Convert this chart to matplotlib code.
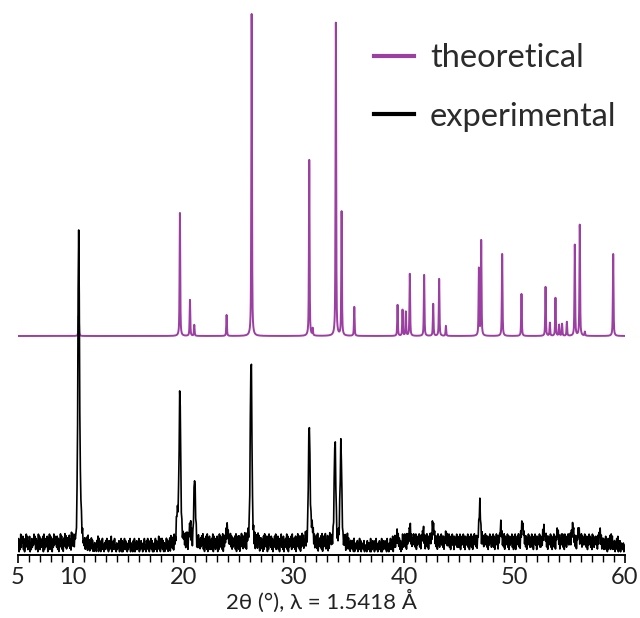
import numpy as np
import matplotlib
matplotlib.use("Agg")
import matplotlib.pyplot as plt
from matplotlib.ticker import FixedLocator, MultipleLocator

plt.rcParams['font.family'] = ['Lato', 'DejaVu Sans']

# theoretical pattern: peak positions (2theta, deg) and heights (a.u.)
theo_pos = [10.50, 19.67, 20.58, 20.97, 23.90, 26.17, 31.39, 31.70, 33.80, 34.32,
            35.47, 39.39, 39.84, 40.14, 40.50, 41.80, 42.62, 43.16, 43.77, 46.76,
            46.97, 48.87, 50.62, 52.80, 53.19, 53.70, 54.03, 54.30, 54.73, 55.45,
            55.90, 56.36, 58.93]
theo_int = [20, 123, 36, 11, 21, 322, 176, 7, 313, 124,
            29, 31, 26, 24, 62, 61, 32, 57, 10, 67,
            95, 82, 42, 49, 13, 38, 11, 12, 14, 91,
            111, 4, 82]

# experimental pattern: peaks
exp_pos = [10.50, 10.70, 19.43, 19.67, 20.60, 21.00, 23.96, 26.12, 31.39, 31.62,
           33.72, 34.26, 39.33, 40.50, 41.70, 42.60, 43.80, 46.85, 48.75, 50.70,
           52.65, 53.90, 55.25, 55.80, 57.70, 58.80]
exp_int = [320, 26, 26, 155, 18, 66, 18, 192, 120, 18,
           103, 100, 10, 14, 10, 20, 4, 36, 14, 20,
           12, 8, 16, 8, 8, 6]

# background noise of the measured trace, one digit per step, 5 -> 60 deg
exp_noise = (
    "4716293858261739482638152736495827361948273648192736481729382716394857382716493826174938273748261938"
    "2516342718142635172426153718261537261415241638172516372415263725162438152637241524361527161537262514"
    "2637152416371526243715263415272416372615372614153726153827163726151437261537183627183629474826372948"
    "5837293916473829162738491728362738492617382917482627391836273816293847291738491627384938273748291638"
    "2817394827392618493728174639281738294817273618294738162947382716384926382716493728163749281736482937"
    "3728164937281739482639281748372716493827382916473829173849263817294836271638492738291748362738164927"
    "2516342617142536152726153426142416352517152634162724153625171526342617241537262816382517283726152938"
    "4938294837592837495739284759382847593827493827594838275948372948375948382749583749382759482847593837"
    "3928475938284759382749382759483827594937294837594838274958374938275948284759383739284759382847593827"
    "3927485937294837594838274958374938275948284759383739284759382847593827493827594838275949372948375948"
    "4938275948382759493759384759483827495837294837584728374938273726482716273817261526153728162615342514"
    "2"
)

tth_fine = np.arange(5, 60.001, 0.01)
tth_exp = np.linspace(5, 60, len(exp_noise))
noise = np.array([int(c) for c in exp_noise]) * 2.2


def pv(x, x0, fwhm, eta):
    # pseudo-Voigt peak shape, unit height
    g = np.exp(-4 * np.log(2) * ((x - x0) / fwhm) ** 2)
    l = 1 / (1 + 4 * ((x - x0) / fwhm) ** 2)
    return eta * l + (1 - eta) * g


theo = np.zeros_like(tth_fine)
for p, h in zip(theo_pos, theo_int):
    theo += h * pv(tth_fine, p, 0.07, 0.6)

exp = noise.copy()
for p, h in zip(exp_pos, exp_int):
    exp += h * pv(tth_exp, p, 0.17, 0.35)

theo_offset = 219
exp_offset = 1

fig = plt.figure(figsize=(6.4, 6.18), dpi=100)
ax = fig.add_axes([18 / 640, 63 / 618, 607 / 640, 545 / 618])

ax.plot(tth_fine, theo + theo_offset, color='#9c3fa2', lw=1.4, label='theoretical')
ax.plot(tth_exp, exp + exp_offset, color='black', lw=1.2, label='experimental')

ax.set_xlim(5, 60)
ax.set_ylim(0, 545)
for s in ['left', 'right', 'top']:
    ax.spines[s].set_visible(False)
ax.spines['bottom'].set_linewidth(1.4)
ax.set_yticks([])
ax.xaxis.set_major_locator(FixedLocator([5, 10, 20, 30, 40, 50, 60]))
ax.xaxis.set_minor_locator(MultipleLocator(1))
ax.tick_params(axis='x', which='major', length=6, width=1.2, labelsize=17, pad=3,
               labelcolor='#222222')
ax.tick_params(axis='x', which='minor', length=5, width=1.0)
ax.set_xlabel('2θ (°), λ = 1.5418 Å', fontsize=16, labelpad=1, color='#222222')

leg = ax.legend(loc='upper left', bbox_to_anchor=(327 / 607, 0.993), frameon=False,
                fontsize=23.5, handlelength=1.2, handletextpad=0.5, labelspacing=0.88)
for line in leg.get_lines():
    line.set_linewidth(3)
for t in leg.get_texts():
    t.set_color('#2b2b2b')

fig.savefig('out.png', dpi=100)
